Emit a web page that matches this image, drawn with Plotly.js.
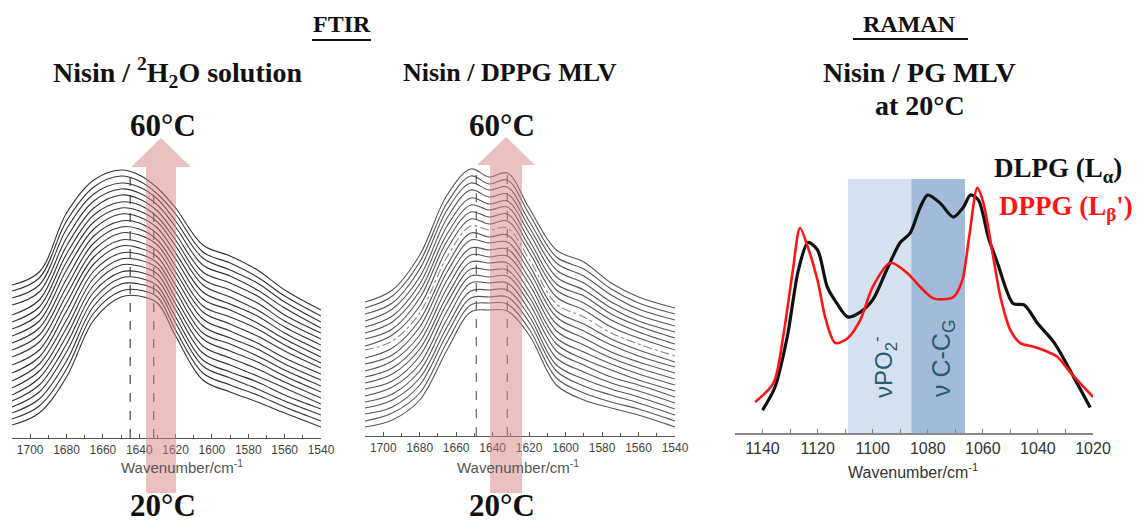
<!DOCTYPE html>
<html><head><meta charset="utf-8">
<script src="https://cdn.plot.ly/plotly-3.0.1.min.js"></script>
<style>body{margin:0;background:#fff}#chart{width:1141px;height:523px}</style>
</head><body><div id="chart"></div>
<script>
// ---------- FTIR: Nisin / 2H2O solution ----------
const ftirWnH2O = [1710,1695,1680,1665,1650,1640,1630,1620,1605,1590,1575,1560,1540];
const ftirTemps = [20,22,24,26,28,30,32,34,36,38,40,42,44,46,48,50,52,54,56,58,60];
// stacked absorbance (a.u., offset included), one row per temperature (20 -> 60 °C)
const ftirH2O = [
 [13,25,61,118,141,142,135,102,58,46,36,25,11],
 [19,32,69,125,147,148,141,108,65,53,43,31,17],
 [25,39,77,132,154,154,147,115,72,60,49,37,23],
 [31,46,86,139,160,160,152,121,78,66,56,43,29],
 [37,53,94,146,166,166,158,128,85,73,62,50,34],
 [43,60,102,153,173,172,164,134,92,80,69,56,40],
 [50,67,110,160,179,178,170,140,99,87,76,62,46],
 [57,74,118,167,185,184,175,147,105,94,82,68,52],
 [65,81,127,174,192,190,181,153,112,100,89,74,58],
 [73,88,135,181,198,196,187,160,119,107,95,80,64],
 [81,96,143,188,205,203,193,166,126,114,102,87,70],
 [88,103,151,195,211,209,198,172,132,121,109,93,75],
 [95,110,159,202,217,215,204,179,139,128,115,99,81],
 [102,117,168,209,224,221,210,185,146,134,122,105,87],
 [109,124,176,216,230,227,216,192,153,141,128,111,93],
 [116,131,184,223,236,233,221,198,159,148,135,117,99],
 [123,138,192,230,243,239,227,204,166,155,142,123,105],
 [133,146,200,237,249,245,233,211,173,162,148,130,110],
 [140,153,209,244,255,251,239,217,180,168,155,136,116],
 [147,160,217,251,262,257,244,224,186,175,161,142,122],
 [153,166,225,258,268,263,250,230,193,182,168,148,128]
];
const ftirH2OMarks = [1645, 1632];
const ftirH2OMarkTops = [268, 250];

// ---------- FTIR: Nisin / DPPG MLV ----------
const ftirWnDPPG = [1710,1695,1680,1665,1652,1642,1632,1620,1605,1590,1575,1560,1540];
const ftirDPPG = [
 [9,16,36,86,124,126,125,101,51,36,28,21,9],
 [15,23,43,94,131,133,132,107,58,43,34,27,15],
 [22,29,51,102,138,139,139,114,65,50,41,33,21],
 [28,36,58,109,145,146,146,120,71,57,47,39,27],
 [34,42,65,117,153,153,153,126,78,64,53,45,33],
 [40,49,72,125,160,159,160,133,85,71,59,51,39],
 [47,55,80,133,167,166,166,139,92,77,66,56,45],
 [53,62,87,140,174,173,173,145,98,84,72,62,51],
 [59,68,94,148,181,179,180,152,105,91,78,68,57],
 [65,75,101,156,188,186,187,158,112,98,84,74,63],
 [72,81,109,164,196,193,194,165,119,105,91,80,69],
 [78,88,116,171,203,199,201,171,125,112,97,86,74],
 [86,95,123,179,210,206,208,177,132,119,103,92,80],
 [90,101,130,187,217,212,215,184,139,126,109,98,86],
 [97,107,138,195,224,219,222,190,146,133,116,104,92],
 [103,114,145,202,231,226,229,196,152,140,122,110,98],
 [109,120,152,210,238,232,235,203,159,146,128,115,104],
 [115,127,159,218,246,239,242,209,166,153,134,121,110],
 [122,133,167,226,253,246,249,215,173,160,141,127,116],
 [128,140,174,233,260,252,256,222,179,167,147,133,122],
 [134,146,181,241,267,259,263,228,186,174,153,139,128]
];
const dppgDashDotTemp = 44;
const ftirDPPGMarks = [1649, 1632];
const ftirDPPGMarkTops = [267, 263];

// ---------- RAMAN: Nisin / PG MLV at 20 °C ----------
const dlpgWn  = [1140,1135.5,1131,1127,1123.5,1120,1116.5,1113,1109,1104.5,1100,1095,1090,1086.4,1082.7,1080,1075.5,1070.7,1067,1064.5,1061.6,1058,1054.7,1049,1045,1040,1034,1027,1021];
const dlpgInt = [9,18,38,64,75,72,57.5,51,45.7,47.6,52.4,64,75,78.7,89,93.7,90.5,85,89,93.7,91.7,77,67,51,50.4,43,35.4,22,10];
const dppgWn  = [1142.7,1136,1132.5,1129,1126.4,1123.5,1120,1117,1113.6,1109,1104.5,1100,1093.6,1087.5,1082.7,1078,1070.7,1067.5,1065,1062,1059.8,1056.5,1053.6,1050,1046.4,1041.6,1038,1033,1028,1020];
const dppgInt = [12.2,19.7,38,64,80.7,73,60,44.5,35.4,37.4,44.5,57.5,67,63,57.5,53,53.5,60,77,96.5,90.5,71,53.5,40.5,35.4,34,32.7,30,23.6,14.2];
const bandPO2 = [1109, 1086];
const bandCC  = [1086, 1066.5];

// ---------- layout helpers (pixel -> paper) ----------
const W = 1141, H = 523;
const px = v => v / W;
const py = v => 1 - v / H;

const traces = [];
ftirH2O.forEach((row, i) => {
  traces.push({x: ftirWnH2O, y: row, xaxis: 'x', yaxis: 'y', type: 'scatter', mode: 'lines',
    name: ftirTemps[i] + '°C', line: {color: '#333', width: 1.1, shape: 'spline', smoothing: 1}, hoverinfo: 'skip'});
});
ftirDPPG.forEach((row, i) => {
  const dd = ftirTemps[i] === dppgDashDotTemp;
  traces.push({x: ftirWnDPPG, y: row, xaxis: 'x2', yaxis: 'y2', type: 'scatter', mode: 'lines',
    name: ftirTemps[i] + '°C', line: {color: dd ? '#888' : '#555', width: 1.1, shape: 'spline', smoothing: 1, dash: dd ? 'dashdot' : 'solid'}, hoverinfo: 'skip'});
});
traces.push({x: dlpgWn, y: dlpgInt, xaxis: 'x3', yaxis: 'y3', type: 'scatter', mode: 'lines', name: 'DLPG',
  line: {color: '#111', width: 3.2, shape: 'spline', smoothing: 0.8}});
traces.push({x: dppgWn, y: dppgInt, xaxis: 'x3', yaxis: 'y3', type: 'scatter', mode: 'lines', name: 'DPPG',
  line: {color: '#ff1414', width: 2.6, shape: 'spline', smoothing: 0.8}});

const ftirAxis = (d) => ({
  domain: d, range: [1710, 1540], dtick: 20, tick0: 1540, showgrid: false, zeroline: false,
  showline: true, linecolor: '#555', linewidth: 1.2, ticks: 'inside', ticklen: 4, tickcolor: '#555',
  minor: {dtick: 10, ticks: 'inside', ticklen: 3, tickcolor: '#555'},
  tickfont: {family: 'Liberation Sans, Arial', size: 12, color: '#444'}, fixedrange: true
});

const shapes = [];
// bands (raman)
shapes.push({type: 'rect', xref: 'x3', yref: 'paper', x0: bandPO2[0], x1: bandPO2[1], y0: py(433), y1: py(179), fillcolor: '#d6e1ef', line: {width: 0}, layer: 'below'});
shapes.push({type: 'rect', xref: 'x3', yref: 'paper', x0: bandCC[0], x1: bandCC[1], y0: py(433), y1: py(179), fillcolor: '#a2bbdb', line: {width: 0}, layer: 'below'});
// dashed marker lines
ftirH2OMarks.forEach((m, i) => shapes.push({type: 'line', xref: 'x', yref: 'y', x0: m, x1: m, y0: 0, y1: ftirH2OMarkTops[i], line: {color: '#222', width: 1, dash: 'dash'}}));
ftirDPPGMarks.forEach((m, i) => shapes.push({type: 'line', xref: 'x2', yref: 'y2', x0: m, x1: m, y0: 0, y1: ftirDPPGMarkTops[i], line: {color: '#444', width: 1, dash: 'dash'}}));
// arrows
function arrow(cx, sw, hw, yb, yh, ya) {
  const p = [[cx - sw/2, yb], [cx - sw/2, yh], [cx - hw/2, yh], [cx, ya], [cx + hw/2, yh], [cx + sw/2, yh], [cx + sw/2, yb]];
  return 'M ' + p.map(q => px(q[0]) + ' ' + py(q[1])).join(' L ') + ' Z';
}
shapes.push({type: 'path', xref: 'paper', yref: 'paper', path: arrow(161, 30, 60, 493, 167, 138), fillcolor: 'rgba(214,130,130,0.5)', line: {width: 0}});
shapes.push({type: 'path', xref: 'paper', yref: 'paper', path: arrow(506, 32, 58, 493, 165, 137), fillcolor: 'rgba(214,130,130,0.5)', line: {width: 0}});
// underlines
shapes.push({type: 'line', xref: 'paper', yref: 'paper', x0: px(312), x1: px(371), y0: py(40), y1: py(40), line: {color: '#111', width: 2}});
shapes.push({type: 'line', xref: 'paper', yref: 'paper', x0: px(853), x1: px(968), y0: py(39), y1: py(39), line: {color: '#111', width: 2}});

const serif = 'Liberation Serif, Times New Roman, serif';
const sans = 'Liberation Sans, Arial, sans-serif';
function ann(text, x, y, size, color, family, extra) {
  return Object.assign({text: text, x: px(x), y: py(y), xref: 'paper', yref: 'paper', showarrow: false,
    xanchor: 'center', yanchor: 'middle', font: {family: family || serif, size: size, color: color || '#111'}}, extra || {});
}
const annotations = [
  ann('<b>FTIR</b>', 342, 24, 24),
  ann('<b>RAMAN</b>', 910, 24, 24),
  ann('<b>Nisin / <sup>2</sup>H<sub>2</sub>O solution</b>', 178, 72, 28),
  ann('<b>Nisin / DPPG MLV</b>', 510, 72, 26),
  ann('<b>Nisin / PG MLV</b>', 919, 72, 28),
  ann('<b>at 20°C</b>', 920, 106, 28),
  ann('<b>60°C</b>', 163, 126, 31),
  ann('<b>20°C</b>', 163, 505, 31),
  ann('<b>60°C</b>', 502, 126, 31),
  ann('<b>20°C</b>', 502, 505, 31),
  ann('Wavenumber/cm<sup>-1</sup>', 182, 466, 15, '#555', sans),
  ann('Wavenumber/cm<sup>-1</sup>', 518, 466, 15, '#555', sans),
  ann('Wavenumber/cm<sup>-1</sup>', 913, 471, 16, '#333', sans),
  ann('<b>DLPG (L<sub>α</sub>)</b>', 1058, 170, 27),
  ann('<b>DPPG (L<sub>β</sub>\')</b>', 1066, 208, 27, '#ff1414'),
  ann('νPO<sub>2</sub><sup>-</sup>', 884, 367, 24, '#2a5d6b', sans, {textangle: -90}),
  ann('ν C-C<sub>G</sub>', 943, 358, 25, '#2a5d6b', sans, {textangle: -90})
];

const layout = {
  width: W, height: H, margin: {l: 0, r: 0, t: 0, b: 0},
  paper_bgcolor: '#fff', plot_bgcolor: 'rgba(0,0,0,0)', showlegend: false,
  xaxis: Object.assign(ftirAxis([px(12), px(321)]), {anchor: 'y'}),
  yaxis: {domain: [py(438), py(130)], range: [0, 308], visible: false, fixedrange: true, anchor: 'x'},
  xaxis2: Object.assign(ftirAxis([px(365), px(675)]), {anchor: 'y2'}),
  yaxis2: {domain: [py(436), py(130)], range: [0, 306], visible: false, fixedrange: true, anchor: 'x2'},
  xaxis3: {domain: [px(735), px(1093)], range: [1150, 1020], dtick: 20, tick0: 1020, anchor: 'y3',
    showgrid: false, zeroline: false, showline: true, linecolor: '#888', linewidth: 1.5,
    ticks: 'inside', ticklen: 4, tickcolor: '#888', minor: {dtick: 10, ticks: 'inside', ticklen: 4, tickcolor: '#888'},
    tickfont: {family: sans, size: 16, color: '#333'}, fixedrange: true},
  yaxis3: {domain: [py(433), py(179)], range: [0, 100], visible: false, fixedrange: true, anchor: 'x3'},
  shapes: shapes, annotations: annotations
};
Plotly.newPlot('chart', traces, layout, {staticPlot: true, displayModeBar: false});
</script></body></html>
